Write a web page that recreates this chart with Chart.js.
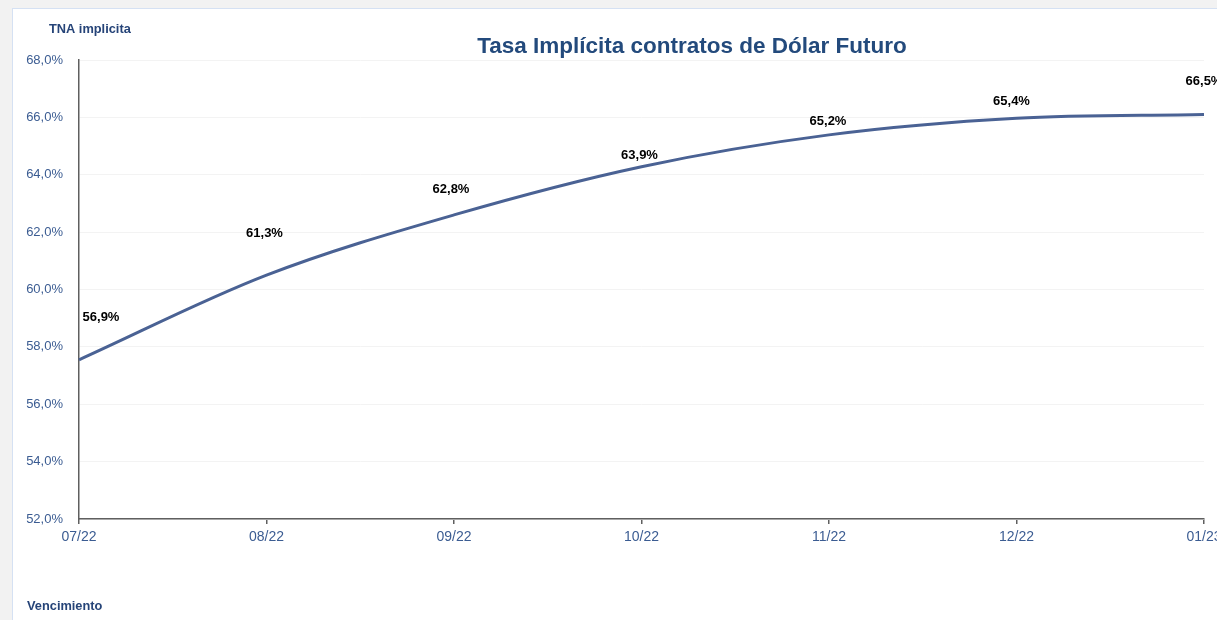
<!DOCTYPE html>
<html>
<head>
<meta charset="utf-8">
<script src="https://cdn.jsdelivr.net/npm/chart.js@4"></script>
<style>
  html, body { margin:0; padding:0; background:#f2f2f2; width:1217px; height:620px; overflow:hidden; }
  #panel { position:absolute; left:12px; top:8px; width:1220px; height:630px; background:#ffffff; border:1px solid #d5e1f3; }
  #c { position:absolute; left:0; top:0; }
</style>
</head>
<body>
<div id="panel"></div>
<canvas id="c" width="1217" height="620"></canvas>
<script>
// ---- data ----
const categories = ['07/22', '08/22', '09/22', '10/22', '11/22', '12/22', '01/23'];
const tnaValues = [56.9, 61.3, 62.8, 63.9, 65.2, 65.4, 66.5];          // labelled contract rates (%)
const trendValues = [57.55, 60.5, 62.6, 64.28, 65.39, 65.97, 66.1];     // plotted curve read at each month (%)
const yMin = 52, yMax = 68, yStep = 2;
const chartTitle = 'Tasa Implícita contratos de Dólar Futuro';
const yTitle = 'TNA implicita';
const xTitle = 'Vencimiento';

const fmt = v => v.toFixed(1).replace('.', ',') + '%';

const labelPlugin = {
  id: 'valueLabels',
  afterDatasetsDraw(chart, args, opts) {
    const meta = chart.getDatasetMeta(0);
    const ctx = chart.ctx;
    ctx.save();
    ctx.font = 'bold 13px "Liberation Sans", Arial, sans-serif';
    ctx.fillStyle = '#000000';
    ctx.textAlign = 'center';
    ctx.textBaseline = 'middle';
    meta.data.forEach((pt, i) => {
      const off = opts.offsets[i] || [0, -20];
      ctx.fillText(fmt(tnaValues[i]), pt.x + off[0], pt.y + off[1]);
    });
    ctx.restore();
  }
};

const textPlugin = {
  id: 'staticTexts',
  afterDraw(chart, args, opts) {
    const ctx = chart.ctx;
    ctx.save();
    ctx.textBaseline = 'middle';
    ctx.textAlign = 'center';
    ctx.fillStyle = '#234a7c';
    ctx.font = 'bold 22.5px "Liberation Sans", Arial, sans-serif';
    ctx.fillText(opts.title, 692, 47);
    ctx.textAlign = 'left';
    ctx.fillStyle = '#264478';
    ctx.font = 'bold 12.8px "Liberation Sans", Arial, sans-serif';
    ctx.fillText(opts.yTitle, 49, 29);
    ctx.fillText(opts.xTitle, 27, 606);
    ctx.restore();
  }
};

new Chart(document.getElementById('c'), {
  type: 'line',
  data: {
    labels: categories,
    datasets: [
      {
        label: 'TNA',
        data: tnaValues,
        showLine: false,
        pointRadius: 0,
        pointHoverRadius: 0,
        borderColor: 'rgba(0,0,0,0)',
        backgroundColor: 'rgba(0,0,0,0)'
      },
      {
        label: 'Curva',
        data: trendValues,
        borderColor: '#4a6294',
        borderWidth: 3,
        pointRadius: 0,
        fill: false,
        cubicInterpolationMode: 'monotone'
      }
    ]
  },
  options: {
    responsive: false,
    animation: false,
    devicePixelRatio: 1,
    layout: { padding: { left: 0, right: 13, top: 60, bottom: 0 } },
    plugins: {
      legend: { display: false },
      title: { display: false },
      tooltip: { enabled: false },
      valueLabels: {
        offsets: [[22, -61], [-2, -19], [-3, -20], [-2, -22], [-1, -19], [-5, -33], [0, -22]]
      },
      staticTexts: { title: chartTitle, yTitle: yTitle, xTitle: xTitle }
    },
    scales: {
      x: {
        offset: false,
        border: { display: true, color: '#5f5f5f', width: 1.5 },
        grid: { drawOnChartArea: false, drawTicks: true, tickLength: 5, color: '#5f5f5f', lineWidth: 1.5 },
        ticks: {
          color: '#3b5c92',
          font: { family: '"Liberation Sans", Arial, sans-serif', size: 14 },
          padding: 5,
          maxRotation: 0,
          autoSkip: false
        },
        afterFit(s) { s.height = 101; s.paddingLeft = 0; s.paddingRight = 0; }
      },
      y: {
        min: yMin,
        max: yMax,
        border: { display: true, color: '#5f5f5f', width: 1.5 },
        grid: { color: '#f3f3f3', lineWidth: 1, drawTicks: false },
        ticks: {
          stepSize: yStep,
          color: '#3b5c92',
          font: { family: '"Liberation Sans", Arial, sans-serif', size: 13 },
          padding: 16,
          callback: v => fmt(v)
        },
        afterFit(s) { s.width = 79; s.paddingTop = 0; s.paddingBottom = 0; }
      }
    }
  },
  plugins: [labelPlugin, textPlugin]
});
</script>
</body>
</html>
